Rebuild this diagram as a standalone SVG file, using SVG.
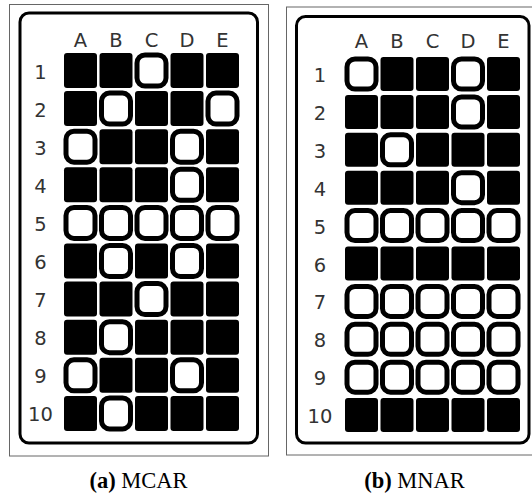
<svg xmlns="http://www.w3.org/2000/svg" width="532" height="496" viewBox="0 0 532 496">
<style>
.frame{fill:#fff;stroke:#666;stroke-width:1}
.card{fill:#fff;stroke:#000;stroke-width:3}
.f{fill:#000}
.o{fill:#fff;stroke:#000;stroke-width:5}
.lab{font-family:"DejaVu Sans",sans-serif;font-size:19.5px;fill:#333;text-anchor:middle}
.cap{font-family:"Liberation Serif",serif;font-size:22.5px;fill:#000;text-anchor:middle}
</style>
<rect width="532" height="496" fill="#fff"/>
<g id="panel-a">
<rect class="frame" x="9.5" y="4.5" width="259" height="451.5"/>
<rect class="card" x="20" y="13" width="237.5" height="430" rx="9"/>
<g class="lab">
<text x="80.5" y="47">A</text><text x="116" y="47">B</text><text x="151.5" y="47">C</text><text x="187" y="47">D</text><text x="222.5" y="47">E</text>
<text x="40.5" y="78.5">1</text><text x="40.5" y="116.6">2</text><text x="40.5" y="154.7">3</text><text x="40.5" y="192.8">4</text><text x="40.5" y="230.9">5</text><text x="40.5" y="269">6</text><text x="40.5" y="307.1">7</text><text x="40.5" y="345.2">8</text><text x="40.5" y="383.3">9</text><text x="40.5" y="421.4">10</text>
</g>
<g id="a-cells">
<!-- row 1 -->
<rect class="f" x="64" y="53" width="33" height="35" rx="3"/><rect class="f" x="99.5" y="53" width="33" height="35" rx="3"/><rect class="o" x="137" y="55" width="29" height="31" rx="8"/><rect class="f" x="170.5" y="53" width="33" height="35" rx="3"/><rect class="f" x="206" y="53" width="33" height="35" rx="3"/>
<!-- row 2 -->
<rect class="f" x="64" y="91.1" width="33" height="35" rx="3"/><rect class="o" x="101.5" y="93.1" width="29" height="31" rx="8"/><rect class="f" x="135" y="91.1" width="33" height="35" rx="3"/><rect class="f" x="170.5" y="91.1" width="33" height="35" rx="3"/><rect class="o" x="208" y="93.1" width="29" height="31" rx="8"/>
<!-- row 3 -->
<rect class="o" x="66" y="131.2" width="29" height="31" rx="8"/><rect class="f" x="99.5" y="129.2" width="33" height="35" rx="3"/><rect class="f" x="135" y="129.2" width="33" height="35" rx="3"/><rect class="o" x="172.5" y="131.2" width="29" height="31" rx="8"/><rect class="f" x="206" y="129.2" width="33" height="35" rx="3"/>
<!-- row 4 -->
<rect class="f" x="64" y="167.3" width="33" height="35" rx="3"/><rect class="f" x="99.5" y="167.3" width="33" height="35" rx="3"/><rect class="f" x="135" y="167.3" width="33" height="35" rx="3"/><rect class="o" x="172.5" y="169.3" width="29" height="31" rx="8"/><rect class="f" x="206" y="167.3" width="33" height="35" rx="3"/>
<!-- row 5 -->
<rect class="o" x="66" y="207.4" width="29" height="31" rx="8"/><rect class="o" x="101.5" y="207.4" width="29" height="31" rx="8"/><rect class="o" x="137" y="207.4" width="29" height="31" rx="8"/><rect class="o" x="172.5" y="207.4" width="29" height="31" rx="8"/><rect class="o" x="208" y="207.4" width="29" height="31" rx="8"/>
<!-- row 6 -->
<rect class="f" x="64" y="243.5" width="33" height="35" rx="3"/><rect class="o" x="101.5" y="245.5" width="29" height="31" rx="8"/><rect class="f" x="135" y="243.5" width="33" height="35" rx="3"/><rect class="o" x="172.5" y="245.5" width="29" height="31" rx="8"/><rect class="f" x="206" y="243.5" width="33" height="35" rx="3"/>
<!-- row 7 -->
<rect class="f" x="64" y="281.6" width="33" height="35" rx="3"/><rect class="f" x="99.5" y="281.6" width="33" height="35" rx="3"/><rect class="o" x="137" y="283.6" width="29" height="31" rx="8"/><rect class="f" x="170.5" y="281.6" width="33" height="35" rx="3"/><rect class="f" x="206" y="281.6" width="33" height="35" rx="3"/>
<!-- row 8 -->
<rect class="f" x="64" y="319.7" width="33" height="35" rx="3"/><rect class="o" x="101.5" y="321.7" width="29" height="31" rx="8"/><rect class="f" x="135" y="319.7" width="33" height="35" rx="3"/><rect class="f" x="170.5" y="319.7" width="33" height="35" rx="3"/><rect class="f" x="206" y="319.7" width="33" height="35" rx="3"/>
<!-- row 9 -->
<rect class="o" x="66" y="359.8" width="29" height="31" rx="8"/><rect class="f" x="99.5" y="357.8" width="33" height="35" rx="3"/><rect class="f" x="135" y="357.8" width="33" height="35" rx="3"/><rect class="o" x="172.5" y="359.8" width="29" height="31" rx="8"/><rect class="f" x="206" y="357.8" width="33" height="35" rx="3"/>
<!-- row 10 -->
<rect class="f" x="64" y="395.9" width="33" height="35" rx="3"/><rect class="o" x="101.5" y="397.9" width="29" height="31" rx="8"/><rect class="f" x="135" y="395.9" width="33" height="35" rx="3"/><rect class="f" x="170.5" y="395.9" width="33" height="35" rx="3"/><rect class="f" x="206" y="395.9" width="33" height="35" rx="3"/>
</g>
<text class="cap" x="138.5" y="488"><tspan font-weight="bold">(a)</tspan> MCAR</text>
</g>
<g id="panel-b">
<rect class="frame" x="286.5" y="7" width="250" height="448"/>
<rect class="card" x="296.5" y="16.5" width="232.5" height="426.5" rx="9"/>
<g class="lab">
<text x="361.5" y="48">A</text><text x="397" y="48">B</text><text x="432.5" y="48">C</text><text x="468" y="48">D</text><text x="503.5" y="48">E</text>
<text x="320" y="82">1</text><text x="320" y="119.9">2</text><text x="320" y="157.8">3</text><text x="320" y="195.7">4</text><text x="320" y="233.6">5</text><text x="320" y="271.5">6</text><text x="320" y="309.4">7</text><text x="320" y="347.3">8</text><text x="320" y="385.2">9</text><text x="320" y="423.1">10</text>
</g>
<g id="b-cells">
<!-- row 1 -->
<rect class="o" x="347" y="59" width="29" height="30" rx="8"/><rect class="f" x="380.5" y="57" width="33" height="34" rx="3"/><rect class="f" x="416" y="57" width="33" height="34" rx="3"/><rect class="o" x="453.5" y="59" width="29" height="30" rx="8"/><rect class="f" x="487" y="57" width="33" height="34" rx="3"/>
<!-- row 2 -->
<rect class="f" x="345" y="94.9" width="33" height="34" rx="3"/><rect class="f" x="380.5" y="94.9" width="33" height="34" rx="3"/><rect class="f" x="416" y="94.9" width="33" height="34" rx="3"/><rect class="o" x="453.5" y="96.9" width="29" height="30" rx="8"/><rect class="f" x="487" y="94.9" width="33" height="34" rx="3"/>
<!-- row 3 -->
<rect class="f" x="345" y="132.8" width="33" height="34" rx="3"/><rect class="o" x="382.5" y="134.8" width="29" height="30" rx="8"/><rect class="f" x="416" y="132.8" width="33" height="34" rx="3"/><rect class="f" x="451.5" y="132.8" width="33" height="34" rx="3"/><rect class="f" x="487" y="132.8" width="33" height="34" rx="3"/>
<!-- row 4 -->
<rect class="f" x="345" y="170.7" width="33" height="34" rx="3"/><rect class="f" x="380.5" y="170.7" width="33" height="34" rx="3"/><rect class="f" x="416" y="170.7" width="33" height="34" rx="3"/><rect class="o" x="453.5" y="172.7" width="29" height="30" rx="8"/><rect class="f" x="487" y="170.7" width="33" height="34" rx="3"/>
<!-- row 5 -->
<rect class="o" x="347" y="210.6" width="29" height="30" rx="8"/><rect class="o" x="382.5" y="210.6" width="29" height="30" rx="8"/><rect class="o" x="418" y="210.6" width="29" height="30" rx="8"/><rect class="o" x="453.5" y="210.6" width="29" height="30" rx="8"/><rect class="o" x="489" y="210.6" width="29" height="30" rx="8"/>
<!-- row 6 -->
<rect class="f" x="345" y="246.5" width="33" height="34" rx="3"/><rect class="f" x="380.5" y="246.5" width="33" height="34" rx="3"/><rect class="f" x="416" y="246.5" width="33" height="34" rx="3"/><rect class="f" x="451.5" y="246.5" width="33" height="34" rx="3"/><rect class="f" x="487" y="246.5" width="33" height="34" rx="3"/>
<!-- row 7 -->
<rect class="o" x="347" y="286.4" width="29" height="30" rx="8"/><rect class="o" x="382.5" y="286.4" width="29" height="30" rx="8"/><rect class="o" x="418" y="286.4" width="29" height="30" rx="8"/><rect class="o" x="453.5" y="286.4" width="29" height="30" rx="8"/><rect class="o" x="489" y="286.4" width="29" height="30" rx="8"/>
<!-- row 8 -->
<rect class="o" x="347" y="324.3" width="29" height="30" rx="8"/><rect class="o" x="382.5" y="324.3" width="29" height="30" rx="8"/><rect class="o" x="418" y="324.3" width="29" height="30" rx="8"/><rect class="o" x="453.5" y="324.3" width="29" height="30" rx="8"/><rect class="o" x="489" y="324.3" width="29" height="30" rx="8"/>
<!-- row 9 -->
<rect class="o" x="347" y="362.2" width="29" height="30" rx="8"/><rect class="o" x="382.5" y="362.2" width="29" height="30" rx="8"/><rect class="o" x="418" y="362.2" width="29" height="30" rx="8"/><rect class="o" x="453.5" y="362.2" width="29" height="30" rx="8"/><rect class="o" x="489" y="362.2" width="29" height="30" rx="8"/>
<!-- row 10 -->
<rect class="f" x="345" y="398.1" width="33" height="34" rx="3"/><rect class="f" x="380.5" y="398.1" width="33" height="34" rx="3"/><rect class="f" x="416" y="398.1" width="33" height="34" rx="3"/><rect class="f" x="451.5" y="398.1" width="33" height="34" rx="3"/><rect class="f" x="487" y="398.1" width="33" height="34" rx="3"/>
</g>
<text class="cap" x="414.5" y="488"><tspan font-weight="bold">(b)</tspan> MNAR</text>
</g>
</svg>
